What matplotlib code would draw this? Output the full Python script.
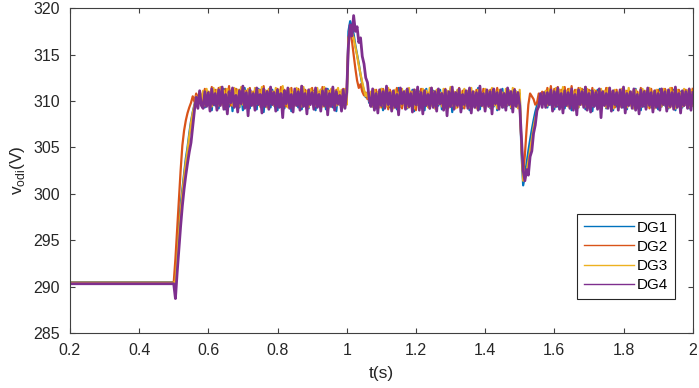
import numpy as np
import matplotlib
matplotlib.use("Agg")
import matplotlib.pyplot as plt

plt.rcParams["font.family"] = ["Liberation Sans", "DejaVu Sans"]

# sample spacing of the simulation output (s)
dt = 0.005
seg_starts = [0.505, 0.585, 1.005, 1.070, 1.505, 1.575]

flat_v = {"DG1": 290.45, "DG2": 290.4, "DG3": 290.4, "DG4": 290.3}

# start-up ramp, 0.505 .. 0.580 s
rise = {
    "DG1": [291.0, 293.5, 296.5, 298.8, 300.5, 302.2, 303.8, 305.0, 306.5, 307.8, 308.8, 309.6, 310.3, 309.7, 310.8, 310.1],
    "DG2": [293.0, 296.2, 299.5, 302.5, 305.2, 306.8, 307.9, 308.7, 309.3, 309.8, 310.5, 309.9, 310.8, 310.2, 311.0, 310.3],
    "DG3": [290.6, 292.8, 295.6, 298.0, 300.0, 301.8, 303.4, 304.7, 306.2, 307.6, 308.7, 309.5, 310.5, 309.8, 310.9, 310.0],
    "DG4": [288.7, 291.5, 294.0, 296.5, 298.7, 300.5, 302.0, 303.3, 304.5, 305.5, 307.3, 309.0, 310.4, 309.2, 311.1, 309.5],
}

# overshoot after the step at 1.0 s, 1.005 .. 1.065 s
peak = {
    "DG1": [317.5, 318.6, 318.0, 317.2, 316.0, 315.0, 314.0, 312.8, 311.8, 311.0, 310.4, 310.9, 309.8],
    "DG2": [316.8, 317.5, 316.5, 315.0, 313.5, 312.2, 311.4, 311.8, 311.0, 310.6, 310.9, 310.2, 310.7],
    "DG3": [316.5, 317.8, 317.4, 316.8, 315.8, 314.9, 313.8, 312.9, 312.0, 311.2, 310.5, 310.9, 310.0],
    "DG4": [316.0, 318.2, 317.0, 319.2, 317.5, 318.0, 316.3, 316.8, 314.8, 314.0, 312.5, 312.0, 310.2],
}

# undershoot after the step at 1.5 s, 1.505 .. 1.570 s
dip = {
    "DG1": [304.5, 300.9, 302.0, 303.3, 304.6, 305.8, 306.9, 307.9, 308.8, 309.5, 310.3, 309.8, 310.6, 310.0],
    "DG2": [305.5, 302.0, 304.2, 307.0, 309.6, 310.8, 310.5, 310.2, 309.6, 309.8, 310.8, 310.3, 311.0, 310.4],
    "DG3": [305.0, 301.4, 301.6, 302.4, 303.5, 304.7, 305.9, 307.1, 308.1, 308.9, 309.6, 310.4, 309.9, 310.7],
    "DG4": [306.0, 302.5, 301.4, 302.6, 302.0, 304.0, 304.6, 306.5, 307.4, 309.0, 309.4, 310.8, 309.3, 310.9],
}

# steady-state ripple, 0.585 .. 1.000 s
ripple_a = {
    "DG1": [310.9, 309.3, 311.1, 309.6, 310.8, 309.0, 311.2, 309.5, 310.7, 309.2,
            311.0, 309.7, 311.3, 309.1, 310.6, 309.4, 311.1, 308.9, 310.9, 309.6,
            311.2, 309.3, 310.8, 309.0, 311.4, 309.5, 310.7, 309.2, 311.0, 309.7,
            310.8, 309.1, 311.3, 309.4, 310.9, 308.8, 311.1, 309.6, 310.7, 309.3,
            311.2, 309.5, 310.8, 309.0, 311.0, 309.7, 311.4, 309.2, 310.6, 309.4,
            311.1, 308.9, 310.9, 309.6, 311.2, 309.3, 310.8, 309.1, 311.3, 309.5,
            310.7, 309.2, 311.0, 309.8, 311.1, 309.0, 310.9, 309.4, 311.2, 309.6,
            310.8, 309.1, 311.3, 309.5, 310.7, 309.3, 311.0, 308.9, 311.1, 309.6,
            310.9, 309.4, 311.2, 309.7],
    "DG2": [309.6, 311.3, 309.9, 311.0, 309.4, 311.5, 309.8, 311.2, 309.5, 311.4,
            309.9, 311.1, 309.3, 311.3, 309.7, 311.6, 309.5, 311.0, 309.8, 311.3,
            309.4, 311.2, 309.9, 311.5, 309.6, 311.1, 309.3, 311.4, 309.8, 311.0,
            309.5, 311.3, 309.9, 311.2, 309.4, 311.6, 309.7, 311.1, 309.5, 311.4,
            309.8, 311.0, 309.3, 311.3, 309.6, 311.5, 309.9, 311.2, 309.4, 311.1,
            309.7, 311.4, 309.5, 311.0, 309.8, 311.3, 309.4, 311.6, 309.7, 311.2,
            309.5, 311.1, 309.9, 311.4, 309.3, 311.2, 309.6, 311.0, 309.8, 311.5,
            309.4, 311.3, 309.7, 311.1, 309.5, 311.4, 309.9, 311.2, 309.6, 311.0,
            309.8, 311.3, 309.5, 311.1],
    "DG3": [311.1, 309.5, 311.3, 309.8, 311.0, 309.4, 311.4, 309.7, 311.2, 309.5,
            311.5, 309.6, 311.1, 309.3, 311.3, 309.8, 311.0, 309.5, 311.4, 309.7,
            311.2, 309.4, 311.5, 309.6, 311.1, 309.3, 311.3, 309.8, 311.0, 309.5,
            311.4, 309.7, 311.2, 309.4, 311.5, 309.6, 311.1, 309.3, 311.3, 309.8,
            311.0, 309.5, 311.4, 309.7, 311.2, 309.4, 311.6, 309.6, 311.1, 309.3,
            311.3, 309.8, 311.0, 309.5, 311.4, 309.7, 311.2, 309.4, 311.5, 309.6,
            311.1, 309.3, 311.3, 309.8, 311.0, 309.5, 311.4, 309.7, 311.2, 309.4,
            311.5, 309.6, 311.1, 309.3, 311.3, 309.8, 311.0, 309.5, 311.4, 309.7,
            311.2, 309.4, 311.3, 309.6],
    "DG4": [309.2, 311.0, 309.4, 310.9, 308.9, 311.3, 309.6, 310.8, 309.0, 311.2,
            309.5, 311.5, 309.1, 310.7, 308.6, 311.0, 309.8, 311.4, 309.3, 310.6,
            308.8, 311.1, 309.7, 311.6, 309.2, 310.9, 308.4, 311.2, 309.5, 310.8,
            309.0, 311.4, 309.6, 310.7, 308.7, 311.3, 309.4, 311.0, 309.1, 311.5,
            309.6, 310.9, 308.9, 311.2, 309.3, 310.8, 308.2, 311.1, 309.7, 311.4,
            309.2, 310.7, 308.8, 311.3, 309.5, 311.0, 309.0, 311.6, 309.4, 310.8,
            308.6, 311.2, 309.6, 310.9, 309.1, 311.4, 309.3, 310.7, 308.9, 311.1,
            309.5, 311.3, 308.5, 310.8, 309.4, 311.5, 309.0, 311.0, 309.7, 310.6,
            308.9, 311.2, 309.2, 310.9],
}

# 1.070 .. 1.500 s
ripple_b = {
    "DG1": [310.8, 309.4, 311.1, 309.2, 310.9, 309.6, 311.3, 309.0, 310.7, 309.5,
            311.2, 309.3, 310.8, 309.7, 311.0, 309.1, 311.4, 309.4, 310.6, 309.8,
            311.1, 309.2, 310.9, 309.5, 311.2, 308.9, 310.8, 309.6, 311.0, 309.3,
            310.7, 309.0, 311.3, 309.4, 310.9, 309.7, 311.1, 309.2, 310.8, 309.5,
            311.2, 309.1, 310.7, 309.6, 311.0, 309.3, 311.3, 308.8, 310.9, 309.4,
            311.1, 309.7, 310.8, 309.2, 311.2, 309.5, 310.6, 309.0, 311.0, 309.6,
            310.9, 309.3, 311.4, 309.1, 310.8, 309.5, 311.1, 309.7, 310.7, 309.2,
            311.2, 309.4, 310.9, 309.0, 311.0, 309.6, 311.3, 309.3, 310.8, 309.5,
            311.1, 309.2, 310.9, 309.6, 311.0, 309.4, 310.8],
    "DG2": [309.5, 311.0, 309.2, 311.2, 309.6, 310.9, 309.3, 311.3, 309.7, 311.0,
            309.1, 311.2, 309.5, 310.8, 309.4, 311.4, 309.8, 311.1, 309.2, 310.9,
            309.6, 311.3, 309.3, 311.0, 309.5, 311.2, 309.0, 310.8, 309.7, 311.3,
            309.4, 311.1, 309.6, 310.9, 309.2, 311.4, 309.5, 311.0, 309.3, 311.2,
            309.7, 310.8, 309.1, 311.3, 309.6, 311.0, 309.4, 311.2, 309.8, 310.9,
            309.3, 311.4, 309.5, 311.1, 309.2, 310.9, 309.7, 311.3, 309.4, 311.0,
            309.6, 311.2, 309.3, 310.8, 309.5, 311.3, 309.1, 311.0, 309.7, 311.2,
            309.4, 310.9, 309.6, 311.4, 309.2, 311.1, 309.5, 310.8, 309.3, 311.2,
            309.7, 311.0, 309.4, 311.3, 309.6, 310.9, 309.5],
    "DG3": [311.0, 309.4, 311.2, 309.7, 310.9, 309.3, 311.3, 309.6, 311.1, 309.4,
            311.4, 309.5, 311.0, 309.2, 311.2, 309.7, 310.9, 309.4, 311.3, 309.6,
            311.1, 309.3, 311.4, 309.5, 311.0, 309.2, 311.2, 309.7, 310.9, 309.4,
            311.3, 309.6, 311.1, 309.3, 311.4, 309.5, 311.0, 309.2, 311.2, 309.7,
            310.9, 309.4, 311.3, 309.6, 311.1, 309.3, 311.5, 309.5, 311.0, 309.2,
            311.2, 309.7, 310.9, 309.4, 311.3, 309.6, 311.1, 309.3, 311.4, 309.5,
            311.0, 309.2, 311.2, 309.7, 310.9, 309.4, 311.3, 309.6, 311.1, 309.3,
            311.4, 309.5, 311.0, 309.2, 311.2, 309.7, 310.9, 309.4, 311.3, 309.6,
            311.1, 309.3, 311.4, 309.5, 311.0, 309.2, 311.2],
    "DG4": [309.4, 311.3, 309.0, 310.8, 308.7, 311.2, 309.5, 311.0, 309.2, 311.6,
            309.6, 310.9, 308.9, 311.1, 309.3, 310.7, 308.5, 311.4, 309.7, 311.0,
            309.1, 311.3, 309.4, 310.8, 308.8, 311.2, 309.6, 311.5, 309.0, 310.9,
            308.6, 311.1, 309.5, 310.7, 309.2, 311.4, 309.3, 311.0, 308.9, 311.3,
            309.7, 310.8, 309.0, 311.2, 308.4, 311.0, 309.4, 311.5, 309.1, 310.9,
            309.5, 311.3, 308.8, 310.7, 309.6, 311.1, 309.2, 311.4, 308.7, 311.0,
            309.3, 310.9, 309.0, 311.6, 309.5, 310.8, 308.9, 311.2, 309.4, 311.0,
            308.6, 311.3, 309.7, 310.9, 309.1, 311.2, 309.3, 310.8, 309.0, 311.4,
            309.6, 311.0, 308.8, 311.2, 309.4, 310.9, 309.5],
}

# 1.575 .. 2.000 s
ripple_c = {
    "DG1": [310.7, 309.3, 311.0, 309.6, 310.9, 309.1, 311.2, 309.4, 310.8, 309.7,
            311.1, 309.2, 310.9, 309.5, 311.3, 309.0, 310.7, 309.6, 311.0, 309.3,
            310.8, 309.7, 311.2, 309.1, 310.9, 309.4, 311.1, 308.9, 310.8, 309.5,
            311.2, 309.3, 310.7, 309.6, 311.0, 309.2, 311.3, 309.5, 310.9, 309.0,
            311.1, 309.4, 310.8, 309.7, 311.2, 309.3, 310.9, 309.1, 311.0, 309.6,
            310.7, 309.2, 311.3, 309.5, 310.8, 309.0, 311.1, 309.4, 310.9, 309.7,
            311.2, 309.3, 310.8, 309.6, 311.0, 309.1, 311.3, 309.4, 310.7, 309.5,
            311.1, 309.2, 310.9, 309.7, 311.2, 309.0, 310.8, 309.5, 311.0, 309.3,
            310.9, 309.6, 311.1, 309.2, 310.8, 309.5],
    "DG2": [310.0, 311.4, 309.9, 311.6, 310.1, 311.3, 309.8, 311.5, 310.0, 311.2,
            309.8, 311.5, 310.1, 311.3, 309.7, 311.6, 310.0, 311.2, 309.9, 311.4,
            309.7, 311.3, 309.9, 311.5, 309.6, 311.2, 309.8, 311.4, 309.5, 311.1,
            309.8, 311.3, 309.5, 311.0, 309.7, 311.4, 309.4, 311.2, 309.6, 311.0,
            309.3, 311.2, 309.6, 310.9, 309.4, 311.3, 309.5, 311.1, 309.7, 310.9,
            309.4, 311.2, 309.6, 311.0, 309.3, 311.4, 309.5, 311.1, 309.7, 310.9,
            309.2, 311.3, 309.5, 311.0, 309.6, 311.2, 309.4, 310.9, 309.7, 311.3,
            309.5, 311.1, 309.3, 311.4, 309.6, 311.0, 309.4, 311.2, 309.7, 310.9,
            309.5, 311.2, 309.3, 311.0, 309.6, 311.3],
    "DG3": [311.1, 309.5, 311.3, 309.7, 311.0, 309.4, 311.4, 309.6, 311.2, 309.3,
            311.5, 309.6, 311.1, 309.4, 311.3, 309.7, 311.0, 309.5, 311.2, 309.3,
            311.4, 309.6, 311.1, 309.4, 311.3, 309.2, 311.0, 309.5, 311.2, 309.7,
            310.9, 309.4, 311.3, 309.6, 311.1, 309.3, 311.4, 309.5, 311.0, 309.2,
            311.2, 309.7, 310.9, 309.4, 311.3, 309.6, 311.1, 309.3, 311.4, 309.5,
            311.0, 309.2, 311.2, 309.7, 310.9, 309.4, 311.3, 309.6, 311.1, 309.3,
            311.4, 309.5, 311.0, 309.2, 311.2, 309.7, 310.9, 309.4, 311.3, 309.6,
            311.1, 309.3, 311.4, 309.5, 311.0, 309.2, 311.2, 309.7, 310.9, 309.4,
            311.3, 309.6, 311.1, 309.3, 311.2, 309.5],
    "DG4": [309.3, 310.9, 309.6, 311.2, 308.9, 311.0, 309.4, 311.4, 309.1, 310.8,
            308.7, 311.1, 309.5, 310.9, 309.2, 311.3, 309.0, 310.7, 308.5, 311.2,
            309.6, 311.0, 309.3, 311.5, 309.0, 310.8, 308.8, 311.1, 309.4, 310.9,
            309.1, 311.3, 308.2, 311.0, 309.5, 310.8, 309.2, 311.4, 308.9, 311.1,
            309.6, 310.9, 309.0, 311.2, 309.3, 311.5, 308.7, 310.8, 309.5, 311.0,
            309.2, 311.3, 309.0, 310.7, 308.6, 311.2, 309.4, 311.0, 309.1, 311.4,
            309.5, 310.9, 308.8, 311.1, 309.3, 310.8, 309.0, 311.3, 309.6, 311.0,
            308.9, 311.2, 309.4, 310.9, 309.1, 311.5, 309.3, 310.8, 308.7, 311.1,
            309.5, 311.0, 309.2, 311.3, 309.0, 310.9],
}

names = ["DG1", "DG2", "DG3", "DG4"]
colors = ["#0072BD", "#D95319", "#EDB120", "#7E2F8E"]
x_ticks = [0.2, 0.4, 0.6, 0.8, 1.0, 1.2, 1.4, 1.6, 1.8, 2.0]
x_labels = ["0.2", "0.4", "0.6", "0.8", "1", "1.2", "1.4", "1.6", "1.8", "2"]
y_ticks = [285, 290, 295, 300, 305, 310, 315, 320]


def series(name):
    t = [0.2, 0.5]
    v = [flat_v[name], flat_v[name]]
    segs = [rise[name], ripple_a[name], peak[name], ripple_b[name], dip[name], ripple_c[name]]
    for start, seg in zip(seg_starts, segs):
        t.extend(start + dt * np.arange(len(seg)))
        v.extend(seg)
    return np.array(t), np.array(v)


fig = plt.figure(figsize=(6.99, 3.88), dpi=100)
ax = fig.add_axes([0.100, 0.142, 0.891, 0.837])

for name, c in zip(names, colors):
    t, v = series(name)
    ax.plot(t, v, color=c, lw=2.0 if name == "DG4" else 1.6, label=name)

ax.set_xlim(0.2, 2.0)
ax.set_ylim(285, 320)
ax.set_xticks(x_ticks)
ax.set_xticklabels(x_labels)
ax.set_yticks(y_ticks)

axc = "#262626"
for s in ax.spines.values():
    s.set_color("#404040")
    s.set_linewidth(0.8)
ax.tick_params(direction="in", top=True, right=True, length=3.6, width=0.8,
               colors="#404040", labelcolor=axc, labelsize=11.5, pad=7)

ax.set_xlabel("t(s)", fontsize=12.5, color=axc, labelpad=6)
ax.set_ylabel(r"v$_{\mathregular{odi}}$(V)", fontsize=12.5, color=axc, labelpad=5)

leg = ax.legend(loc="lower right", bbox_to_anchor=(0.972, 0.105), fontsize=11,
                borderaxespad=0, handlelength=3.3, handletextpad=0.2,
                borderpad=0.45, labelspacing=0.33, fancybox=False, framealpha=1)
leg.get_frame().set_edgecolor(axc)
leg.get_frame().set_linewidth(0.8)
for ln in leg.get_lines():
    ln.set_linewidth(1.0)

fig.savefig("out.png", dpi=100)
